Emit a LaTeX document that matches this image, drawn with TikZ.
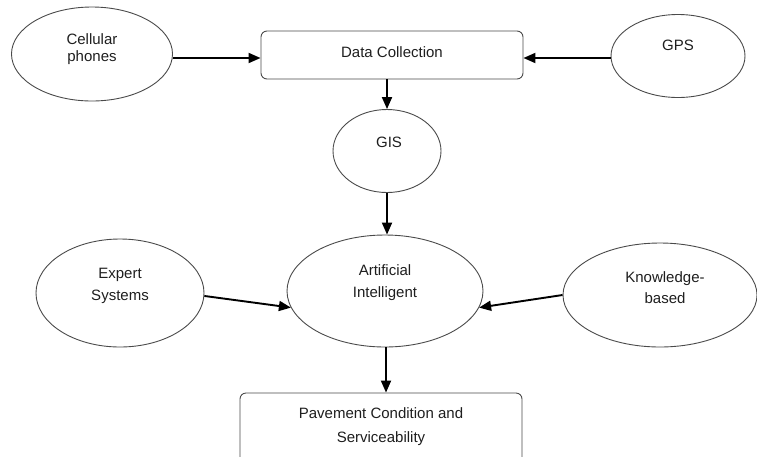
\documentclass[tikz,border=0pt]{standalone}
\usepackage{fontspec}
\setmainfont{Liberation Sans}
\usetikzlibrary{shapes.geometric,arrows.meta}
\definecolor{edgecol}{HTML}{4A4A4A}
\definecolor{textcol}{HTML}{1E1E1E}
\tikzset{
  oval/.style={ellipse, draw=edgecol, line width=0.9pt, inner sep=0pt},
  box/.style={rectangle, draw=edgecol, line width=0.9pt, rounded corners=6pt, inner sep=0pt},
  txt/.style={anchor=base, inner sep=0pt, text=textcol, font=\fontsize{15}{22}\selectfont},
  arr/.style={draw=black, line width=1.9pt, -{Triangle[length=12pt,width=10pt]}, shorten >=0pt},
}
\begin{document}
\begin{tikzpicture}[x=1pt, y=-1pt]
\useasboundingbox (0,0) rectangle (757,456);
\clip (0,0) rectangle (757,456);
% shapes
\node[oval, minimum width=161pt, minimum height=94pt] (cell) at (92,54) {};
\node[box, minimum width=262pt, minimum height=48pt] (data) at (392,55) {};
\node[oval, minimum width=134pt, minimum height=83pt] (gps) at (678,56) {};
\node[oval, minimum width=108pt, minimum height=83pt] (gis) at (387,151) {};
\node[oval, minimum width=196pt, minimum height=112pt] (ai) at (385,291) {};
\node[oval, minimum width=168pt, minimum height=108pt] (expert) at (120,293) {};
\node[oval, minimum width=194pt, minimum height=104pt] (know) at (660,295) {};
\node[box, minimum width=282pt, minimum height=90pt] (pave) at (381,438) {};
% texts
\node[txt, font=\fontsize{15}{17}\selectfont] (cellT) at (92,44) {\begin{tabular}[t]{@{}c@{}}Cellular\\phones\end{tabular}};
\node[txt] (dataT) at (392,57) {Data Collection};
\node[txt] (gpsT) at (678,50) {GPS};
\node[txt] (gisT) at (389,147) {GIS};
\node[txt] (aiT) at (385,275) {\begin{tabular}[t]{@{}c@{}}Artificial\\Intelligent\end{tabular}};
\node[txt] (expertT) at (120,278) {\begin{tabular}[t]{@{}c@{}}Expert\\Systems\end{tabular}};
\node[txt, font=\fontsize{15}{21}\selectfont] (knowT) at (665,282) {\begin{tabular}[t]{@{}c@{}}Knowledge-\\based\end{tabular}};
\node[txt, font=\fontsize{15}{24}\selectfont] (paveT) at (381,418) {\begin{tabular}[t]{@{}c@{}}Pavement Condition and\\Serviceability\end{tabular}};
% connectors
\draw[arr] ([yshift=-4pt]cell.east) -- ([yshift=-3pt]data.west);
\draw[arr] ([yshift=-2pt]gps.west) -- ([yshift=-3pt]data.east);
\draw[arr] (data.south -| gis.north) -- (gis.north);
\draw[arr] (gis.south) -- (gis.south |- ai.north);
\draw[arr] (expert.-2) -- (ai.190);
\draw[arr] (know.west) -- (ai.350);
\draw[arr] ([xshift=1pt]ai.south) -- ([xshift=1pt]ai.south |- pave.north);
\end{tikzpicture}
\end{document}
